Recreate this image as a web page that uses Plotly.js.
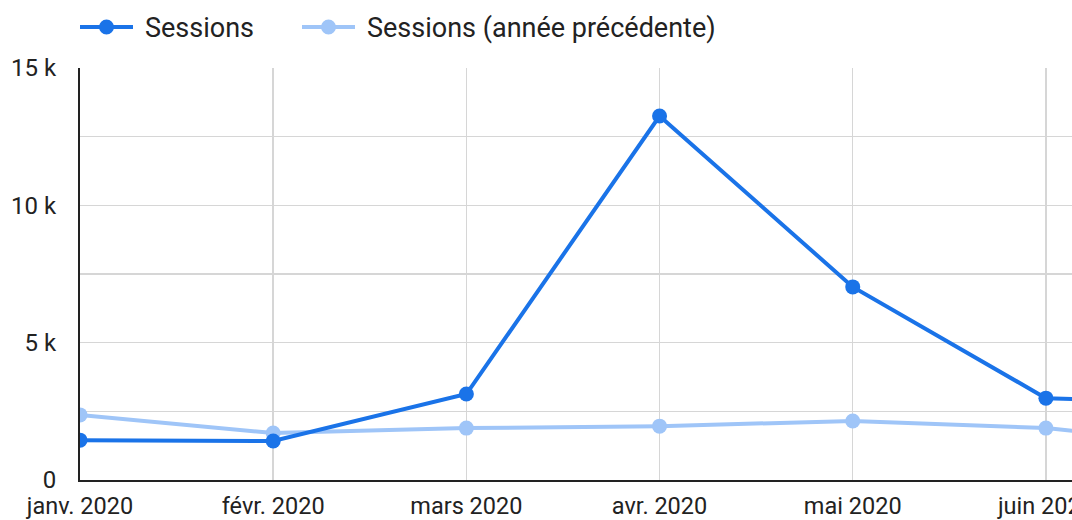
<!DOCTYPE html>
<html>
<head>
<meta charset="utf-8">
<script src="https://cdn.plot.ly/plotly-3.0.1.min.js"></script>
<style>
html,body{margin:0;padding:0;background:#fff;}
#chart{width:1072px;height:520px;}
</style>
</head>
<body>
<div id="chart"></div>
<script>
const months = ["janv. 2020","févr. 2020","mars 2020","avr. 2020","mai 2020","juin 2020","juil. 2020"];
const sessions = [1450, 1420, 3130, 13250, 7030, 2980, 2750];
const sessionsPrev = [2370, 1710, 1890, 1960, 2150, 1890, 1150];
const seriesNames = ["Sessions", "Sessions (année précédente)"];
const yTickVals = [0, 2500, 5000, 7500, 10000, 12500, 15000];
const yTickText = ["0", "", "5 k", "", "10 k", "", "15 k"];

const colors = ["#1a73e8", "#9fc5f8"];
const seriesData = [sessions, sessionsPrev];

// Plot area geometry (pixels) used to place the custom legend
const W = 1072, H = 520, L = 80, R = 0, T = 68, B = 40;
const pw = W - L - R, ph = H - T - B;
const px2x = p => (p - L) / pw;
const py2y = p => (H - B - p) / ph;

const traces = [1, 0].map(i => ({
  x: months, y: seriesData[i], name: seriesNames[i], type: "scatter", mode: "lines+markers",
  line: {color: colors[i], width: 4}, marker: {color: colors[i], size: 15}, showlegend: false
}));

// custom legend: [lineStart, lineEnd, textStart] in px
const legendPos = [[80, 133, 144], [302, 355, 366]];
const legendY = 27;
const shapes = [], annotations = [];
legendPos.forEach((p, i) => {
  shapes.push({type: "line", xref: "paper", yref: "paper", x0: px2x(p[0]), x1: px2x(p[1]),
    y0: py2y(legendY), y1: py2y(legendY), line: {color: colors[i], width: 4}});
  shapes.push({type: "circle", xref: "paper", yref: "paper", xsizemode: "pixel", ysizemode: "pixel",
    xanchor: px2x((p[0] + p[1]) / 2), yanchor: py2y(legendY), x0: -7.5, x1: 7.5, y0: -7.5, y1: 7.5,
    fillcolor: colors[i], line: {width: 0}});
  annotations.push({xref: "paper", yref: "paper", x: px2x(p[2]), y: py2y(legendY + 1),
    xanchor: "left", yanchor: "middle", showarrow: false, borderpad: 0,
    text: seriesNames[i], font: {size: 27, color: "#222", family: "Roboto, sans-serif"}});
});

const layout = {
  width: W, height: H,
  margin: {l: L, r: R, t: T, b: B, pad: 0},
  paper_bgcolor: "#fff", plot_bgcolor: "#fff",
  font: {family: "Roboto, sans-serif", color: "#222", size: 23},
  showlegend: false,
  shapes: shapes, annotations: annotations,
  xaxis: {type: "category", range: [0, 5.135], showgrid: true, gridcolor: "#d6d6d6", gridwidth: 1.5,
          showline: true, linecolor: "#222", linewidth: 2, zeroline: false,
          ticks: "", tickfont: {size: 23.5, color: "#222"}, ticklabelstandoff: 4, fixedrange: true},
  yaxis: {range: [0, 15000], tickvals: yTickVals, ticktext: yTickText, showgrid: true,
          gridcolor: "#d6d6d6", gridwidth: 1.5, showline: true, linecolor: "#222", linewidth: 2,
          zeroline: false, ticks: "", tickfont: {size: 24, color: "#222"}, ticklabelstandoff: 17, fixedrange: true}
};

Plotly.newPlot("chart", traces, layout, {displayModeBar: false, staticPlot: true});
</script>
</body>
</html>
